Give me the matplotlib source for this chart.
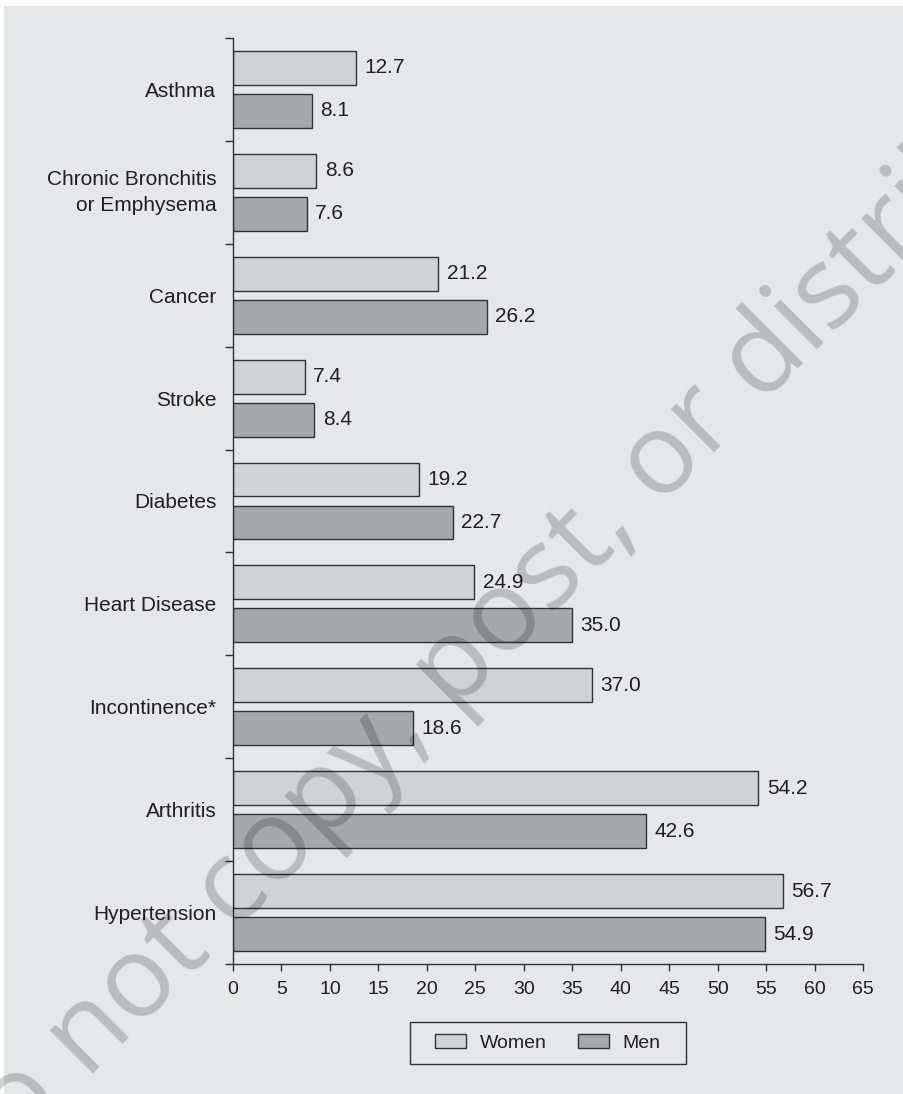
import numpy as np
import matplotlib
matplotlib.use("Agg")
import matplotlib.pyplot as plt
from matplotlib.patches import Patch, Rectangle
from matplotlib.textpath import TextPath
from matplotlib.font_manager import FontProperties

conditions = ["Asthma", "Chronic Bronchitis\nor Emphysema", "Cancer", "Stroke",
              "Diabetes", "Heart Disease", "Incontinence*", "Arthritis", "Hypertension"]
women = [12.7, 8.6, 21.2, 7.4, 19.2, 24.9, 37.0, 54.2, 56.7]
men = [8.1, 7.6, 26.2, 8.4, 22.7, 35.0, 18.6, 42.6, 54.9]
x_ticks = list(range(0, 70, 5))

BG = "#e6e7e8"
WOMEN_C = "#d1d2d4"
MEN_C = "#a7a8ab"
EDGE = "#333333"
TXT = "#231f20"

plt.rcParams["font.family"] = ["Liberation Sans", "DejaVu Sans"]
plt.rcParams["font.size"] = 15

W, H = 904, 1094
fig = plt.figure(figsize=(W / 100, H / 100), dpi=100, facecolor=BG)
# thin white margin along top and left edges
fig.add_artist(Rectangle((0, 1 - 6 / H), 1, 6 / H, transform=fig.transFigure,
                         facecolor="white", edgecolor="none"))
fig.add_artist(Rectangle((0, 0), 4 / W, 1, transform=fig.transFigure,
                         facecolor="white", edgecolor="none"))

ax = fig.add_axes([233 / W, 1 - 964 / H, 630 / W, 926 / H])
ax.set_facecolor(BG)

n = len(conditions)
centers = np.arange(n) + 0.5
bh = 0.33
off = 0.209
ax.barh(centers - off, women, height=bh, color=WOMEN_C, edgecolor=EDGE, linewidth=1.0, label="Women")
ax.barh(centers + off, men, height=bh, color=MEN_C, edgecolor=EDGE, linewidth=1.0, label="Men")

for y, v in zip(centers - off, women):
    ax.annotate(f"{v:.1f}", (v, y), xytext=(6, 0), textcoords="offset points",
                va="center", ha="left", fontsize=15, color=TXT)
for y, v in zip(centers + off, men):
    ax.annotate(f"{v:.1f}", (v, y), xytext=(6, 0), textcoords="offset points",
                va="center", ha="left", fontsize=15, color=TXT)

ax.set_xlim(0, 65)
ax.set_ylim(n, 0)
ax.set_xticks(x_ticks)
ax.set_yticks(np.arange(n + 1))
ax.set_yticklabels([])
ax.set_yticks(centers, minor=True)
labels = ax.set_yticklabels(conditions, minor=True, ha="right", linespacing=1.45)
for lab in labels:
    if "\n" in lab.get_text():
        lab.set_va("center")
ax.tick_params(axis="y", which="minor", length=0, pad=12)
ax.tick_params(axis="y", which="major", length=5.5, width=1.0, color=EDGE)
ax.tick_params(axis="x", length=5.0, width=1.0, color=EDGE, pad=7.5,
               labelsize=14, labelcolor=TXT)
ax.tick_params(axis="y", labelcolor=TXT, which="both")
for side in ["top", "right"]:
    ax.spines[side].set_visible(False)
for side in ["left", "bottom"]:
    ax.spines[side].set_linewidth(1.0)
    ax.spines[side].set_color(EDGE)

# legend without its own frame; the box is drawn separately for wider side padding
handles = [Patch(facecolor=WOMEN_C, edgecolor=EDGE, linewidth=1.0, label="Women"),
           Patch(facecolor=MEN_C, edgecolor=EDGE, linewidth=1.0, label="Men")]
fig.legend(handles=handles, loc="center", bbox_to_anchor=(548 / W, 1 - 1043 / H),
           ncol=2, frameon=False, handlelength=1.6, handleheight=0.77,
           handletextpad=0.7, columnspacing=1.6, fontsize=14, labelcolor=TXT)
fig.add_artist(Rectangle((410 / W, 1 - 1064 / H), 276 / W, 42 / H, transform=fig.transFigure,
                         facecolor="none", edgecolor=EDGE, linewidth=1.0))

# diagonal watermark, placed so the "o" of "or" sits at a fixed pixel spot
mark = "Do not copy, post, or distribute"
fp = FontProperties(family="Open Sans", size=82)
o_w = TextPath((0, 0), "o", prop=fp).get_extents().width
d = (TextPath((0, 0), "Do not copy, post, o", prop=fp).get_extents().x1 - o_w / 2) * 100 / 72
h = 0.27 * 82 * 100 / 72
ang = np.deg2rad(45)
u = np.array([np.cos(ang), np.sin(ang)])
nv = np.array([-np.sin(ang), np.cos(ang)])
anchor = np.array([662, H - 462]) - d * u - h * nv
fig.text(anchor[0] / W, anchor[1] / H, mark, fontproperties=fp, rotation=45,
         rotation_mode="anchor", ha="left", va="baseline", color="black", alpha=0.19,
         zorder=10)

fig.savefig("out.png", dpi=100, facecolor=BG)
